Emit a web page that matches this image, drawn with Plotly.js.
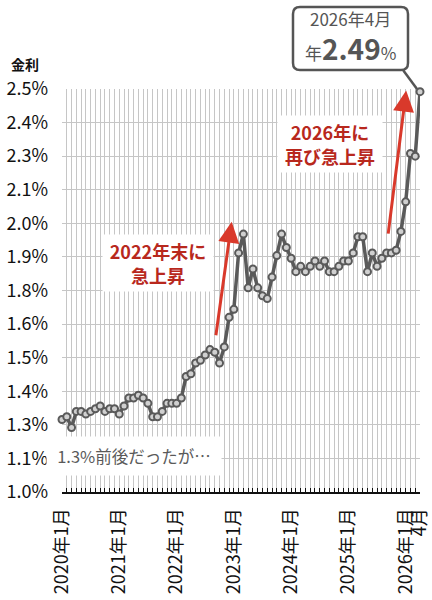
<!DOCTYPE html>
<html>
<head>
<meta charset="utf-8">
<script src="https://cdn.plot.ly/plotly-3.0.1.min.js"></script>
<style>
html,body{margin:0;padding:0;background:#fff;}
#chart{width:432px;height:600px;}
</style>
</head>
<body>
<div id="chart"></div>
<script>
// ---- data ----
const months = [
  '2020-01','2020-02','2020-03','2020-04','2020-05','2020-06','2020-07','2020-08','2020-09','2020-10','2020-11','2020-12',
  '2021-01','2021-02','2021-03','2021-04','2021-05','2021-06','2021-07','2021-08','2021-09','2021-10','2021-11','2021-12',
  '2022-01','2022-02','2022-03','2022-04','2022-05','2022-06','2022-07','2022-08','2022-09','2022-10','2022-11','2022-12',
  '2023-01','2023-02','2023-03','2023-04','2023-05','2023-06','2023-07','2023-08','2023-09','2023-10','2023-11','2023-12',
  '2024-01','2024-02','2024-03','2024-04','2024-05','2024-06','2024-07','2024-08','2024-09','2024-10','2024-11','2024-12',
  '2025-01','2025-02','2025-03','2025-04','2025-05','2025-06','2025-07','2025-08','2025-09','2025-10','2025-11','2025-12',
  '2026-01','2026-02','2026-03','2026-04'
];
const rates = [
  1.27,1.28,1.24,1.30,1.30,1.29,1.30,1.31,1.32,1.30,1.31,1.31,
  1.29,1.32,1.35,1.35,1.36,1.35,1.33,1.28,1.28,1.30,1.33,1.33,
  1.33,1.35,1.43,1.44,1.48,1.49,1.51,1.53,1.52,1.48,1.54,1.65,
  1.68,1.89,1.96,1.76,1.83,1.76,1.73,1.72,1.80,1.88,1.96,1.91,
  1.87,1.82,1.84,1.82,1.84,1.86,1.84,1.86,1.82,1.82,1.84,1.86,
  1.86,1.89,1.95,1.95,1.82,1.89,1.84,1.87,1.89,1.89,1.90,1.97,
  2.08,2.26,2.25,2.49
];
const xTickMonths = ['2020-01','2021-01','2022-01','2023-01','2024-01','2025-01','2026-01','2026-04'];
const xTickText = ['2020年1月','2021年1月','2022年1月','2023年1月','2024年1月','2025年1月','2026年1月','4月'];
const yTickVals = [1.0,1.125,1.25,1.375,1.5,1.625,1.75,1.875,2.0,2.125,2.25,2.375,2.5];
const yTickText = ['1.0%','1.1%','1.3%','1.4%','1.5%','1.6%','1.8%','1.9%','2.0%','2.1%','2.3%','2.4%','2.5%'];

// ---- layout helpers (pixel -> paper) ----
const L = 62, R = 420, T = 89, B = 492;
const pxX = x => (x - L) / (R - L);
const pxY = y => (B - y) / (B - T);
const xIdx = months.map((m, i) => i);
const lastI = months.length - 1;

function roundRect(x0, y0, x1, y1, r) {
  const X = v => pxX(v).toFixed(5), Y = v => pxY(v).toFixed(5);
  return `M${X(x0 + r)},${Y(y0)} L${X(x1 - r)},${Y(y0)} Q${X(x1)},${Y(y0)} ${X(x1)},${Y(y0 + r)} ` +
         `L${X(x1)},${Y(y1 - r)} Q${X(x1)},${Y(y1)} ${X(x1 - r)},${Y(y1)} ` +
         `L${X(x0 + r)},${Y(y1)} Q${X(x0)},${Y(y1)} ${X(x0)},${Y(y1 - r)} ` +
         `L${X(x0)},${Y(y0 + r)} Q${X(x0)},${Y(y0)} ${X(x0 + r)},${Y(y0)} Z`;
}

const FONT = '"Noto Sans CJK JP", "Noto Sans", sans-serif';
const RED = '#b8281d';
const ARROW = '#d9392b';

function label(text, cx, cy, w, size, color, pad) {
  return {xref: 'paper', yref: 'paper', x: pxX(cx), y: pxY(cy), xanchor: 'center', yanchor: 'middle',
          text: text, showarrow: false, bgcolor: '#fff', borderpad: pad, width: w,
          font: {size: size, color: color, family: FONT}};
}

const trace = {
  x: xIdx,
  y: rates,
  type: 'scatter',
  mode: 'lines+markers',
  line: {color: '#5a5a5a', width: 3.5},
  marker: {size: 7, color: '#d0d0d0', line: {color: '#5a5a5a', width: 2}},
  cliponaxis: false,
  hoverinfo: 'skip'
};

const layout = {
  width: 432, height: 600,
  margin: {l: L, r: 432 - R, t: T, b: 600 - B},
  paper_bgcolor: '#fff', plot_bgcolor: '#fff',
  showlegend: false,
  font: {family: FONT, color: '#111'},
  xaxis: {
    range: [0, lastI],
    tickmode: 'array',
    tickvals: xTickMonths.map(m => months.indexOf(m)),
    ticktext: xTickText,
    tickangle: -90,
    tickfont: {size: 18, color: '#111', family: FONT},
    showgrid: true, gridcolor: '#c6c6c6', gridwidth: 1,
    ticks: 'inside', ticklen: 4, tickcolor: '#111', tickwidth: 1,
    minor: {tickmode: 'linear', tick0: 0, dtick: 1, showgrid: true, gridcolor: '#c6c6c6', gridwidth: 1,
            ticks: 'inside', ticklen: 4, tickcolor: '#111', tickwidth: 1},
    showline: true, linecolor: '#111', linewidth: 2,
    zeroline: false,
    ticklabelstandoff: 7,
    fixedrange: true
  },
  yaxis: {
    range: [1.0, 2.5],
    tickmode: 'array',
    tickvals: yTickVals,
    ticktext: yTickText,
    tickfont: {size: 18, color: '#111', family: FONT},
    showgrid: true, gridcolor: '#c6c6c6', gridwidth: 1,
    ticks: '', showline: false, zeroline: false,
    ticklabelstandoff: 13,
    fixedrange: true
  },
  shapes: [
    {type: 'path', xref: 'paper', yref: 'paper', path: roundRect(293, 7, 408, 70, 7),
     line: {color: '#555', width: 2.5}, fillcolor: '#fff', layer: 'above'},
    {type: 'line', xref: 'paper', yref: 'paper', x0: pxX(403), y0: pxY(70), x1: pxX(417), y1: pxY(89),
     line: {color: '#555', width: 2.5}, layer: 'above'}
  ],
  annotations: [
    {xref: 'paper', yref: 'paper', x: pxX(9), y: pxY(64), xanchor: 'left', yanchor: 'middle',
     text: '<b>金利</b>', showarrow: false, font: {size: 14, color: '#111', family: FONT}},
    label('<b>急上昇</b>', 158, 275, 104, 18, RED, 3),
    label('<b>2022年末に</b>', 158, 251, 104, 18, RED, 3),
    label('<b>再び急上昇</b>', 330, 156, 98, 18, RED, 3),
    label('<b>2026年に</b>', 330, 132, 98, 18, RED, 3),
    label('1.3%前後だったが…', 134, 456, 160, 16.5, '#5a5a5a', 7),
    {x: 35.55, y: 2.006, xref: 'x', yref: 'y', ax: 32.2, ay: 1.578, axref: 'x', ayref: 'y',
     showarrow: true, arrowhead: 2, arrowsize: 1.4, arrowwidth: 3, arrowcolor: ARROW, standoff: 0, text: ''},
    {x: 72.1, y: 2.494, xref: 'x', yref: 'y', ax: 68.3, ay: 1.956, axref: 'x', ayref: 'y',
     showarrow: true, arrowhead: 2, arrowsize: 1.4, arrowwidth: 3, arrowcolor: ARROW, standoff: 0, text: ''},
    {xref: 'paper', yref: 'paper', x: pxX(350), y: pxY(19), xanchor: 'center', yanchor: 'middle',
     text: '2026年4月', showarrow: false, font: {size: 17, color: '#555', family: FONT}},
    {xref: 'paper', yref: 'paper', x: pxX(350), y: pxY(48), xanchor: 'center', yanchor: 'middle',
     text: '年<span style="font-size:28px;font-weight:bold">2.49</span>%', showarrow: false,
     font: {size: 17, color: '#555', family: FONT}}
  ]
};

Plotly.newPlot('chart', [trace], layout, {staticPlot: true, displayModeBar: false});
</script>
</body>
</html>
